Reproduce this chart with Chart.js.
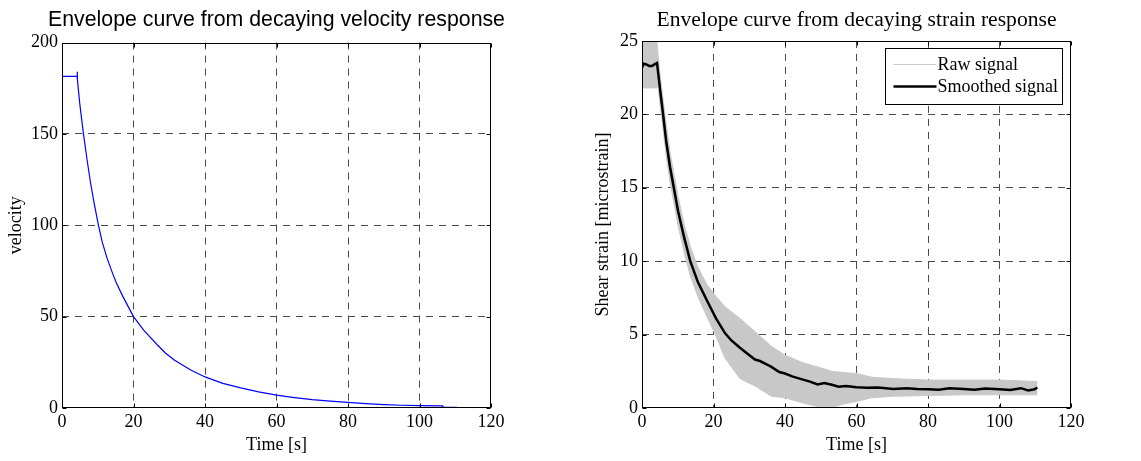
<!DOCTYPE html>
<html>
<head>
<meta charset="utf-8">
<title>Envelope curves</title>
<script src="https://cdn.jsdelivr.net/npm/chart.js@4.4.1/dist/chart.umd.min.js"></script>
<style>
  html, body { margin: 0; padding: 0; background: #fff; }
  #wrap { position: relative; width: 1141px; height: 461px; }
  canvas { position: absolute; top: 0; }
  #velocityChart { left: 0; }
  #strainChart { left: 570px; }
</style>
</head>
<body>
<div id="wrap">
  <canvas id="velocityChart" width="570" height="461"></canvas>
  <canvas id="strainChart" width="571" height="461"></canvas>
</div>
<script>
// Axis ticks
const timeTicks = [0, 20, 40, 60, 80, 100, 120];
const velocityTicks = [0, 50, 100, 150, 200];
const strainTicks = [0, 5, 10, 15, 20, 25];

// Left panel: velocity envelope
const velocityTime = [0, 4.2, 4.25, 4.35, 5, 6, 7, 8, 9, 10.2, 11.3, 12.6, 14, 15.1, 16.9, 18.6, 20, 22.9, 26.7,
    29, 31.4, 36, 40, 45, 50, 55, 60, 65, 70, 75, 80, 85, 90, 95, 100, 106.5, 106.6, 110.5];
const velocity = [181.5, 181.5, 184, 180, 166, 150, 136, 123, 112, 100, 90.5, 82, 74.5, 69, 61.5, 55.2, 50, 42.5, 34.5,
    30, 26.3, 20.8, 17, 13.5, 11, 8.8, 7, 5.7, 4.6, 3.8, 3.1, 2.4, 1.9, 1.5, 1.3, 1.2, 0.5, 0.4];

// Right panel: strain envelope, smoothed
const smoothTime = [0, 0.5, 1.2, 2, 2.8, 3.5, 4.2, 5.1, 5.9, 6.75, 7.85, 8.9, 10.1, 11.8, 13.5, 15.6, 18.2, 20.7,
    23.2, 25, 27.4, 29.5, 31.6, 33, 35, 36.2, 38.4, 40, 42, 44.8, 47, 49.1, 51, 53.1, 55, 57, 60, 63, 66, 70.3, 74, 77,
    80, 83, 86, 90, 93, 96, 100, 103, 106, 108, 109.8, 110.6];
const smoothStrain = [23.2, 23.45, 23.4, 23.3, 23.3, 23.4, 23.5, 21.6, 20, 18.2, 16.4, 15, 13.4, 11.6, 10, 8.6, 7.3, 6.1,
    5.1, 4.6, 4.1, 3.7, 3.3, 3.2, 2.95, 2.8, 2.45, 2.35, 2.15, 1.95, 1.8, 1.6, 1.7, 1.58, 1.45, 1.5, 1.42, 1.38, 1.4, 1.3, 1.35, 1.3,
    1.28, 1.25, 1.35, 1.3, 1.25, 1.32, 1.28, 1.22, 1.35, 1.2, 1.28, 1.4];

// Right panel: raw signal spread (upper / lower edge of the grey band)
const rawTime = [0, 4.2, 4.5, 5.1, 5.9, 6.75, 7.85, 8.9, 10.1, 11.8, 13.5, 15.6, 18.2, 20.7, 23.2, 27.4, 31.6, 36.2,
    40, 44.8, 49.1, 53.1, 57, 60, 64.3, 70.3, 80, 90, 100, 110.6];
const rawUpper = [24.9, 24.9, 24.0, 22.6, 21.0, 19.3, 17.4, 16.0, 14.4, 12.5, 11.0, 9.6, 8.4, 7.6, 6.9, 6.1, 5.2, 4.2,
    3.6, 3.1, 2.8, 2.5, 2.4, 2.35, 2.1, 2.0, 1.9, 1.9, 1.9, 1.8];
const rawLower = [21.8, 21.8, 21.9, 20.6, 19.0, 17.2, 15.4, 14.0, 12.4, 10.6, 9.0, 7.6, 6.2, 4.9, 3.4, 2.0, 1.5, 0.8,
    0.7, 0.35, 0.1, 0.05, 0.3, 0.45, 0.7, 0.8, 0.85, 0.9, 0.9, 0.9];

const serif = "'Liberation Serif', 'Times New Roman', serif";

function toPoints(xs, ys) {
    return xs.map((x, i) => ({ x: x, y: ys[i] }));
}

// grid lines only inside the box, the box itself is drawn by the plugin
function gridColor(ticks) {
    return (ctx) => {
        const v = ctx.tick ? ctx.tick.value : null;
        if (v === ticks[0] || v === ticks[ticks.length - 1]) return "rgba(0,0,0,0)";
        return "#4a4a4a";
    };
}

// center the title over the plot box instead of the whole canvas
const centerTitlePlugin = {
    id: "centerTitle",
    afterLayout(chart) {
        const tb = chart.titleBlock;
        if (!tb) return;
        const c = (chart.chartArea.left + chart.chartArea.right) / 2;
        tb.left = c - chart.width / 2;
        tb.right = c + chart.width / 2;
    },
};

// MATLAB style box with inward tick marks
const boxPlugin = {
    id: "matlabBox",
    afterDraw(chart) {
        const { ctx, chartArea: a, scales } = chart;
        const l = Math.round(a.left) + 0.5, r = Math.round(a.right) - 0.5;
        const t = Math.round(a.top) + 0.5, b = Math.round(a.bottom) - 0.5;
        ctx.save();
        ctx.strokeStyle = "#000";
        ctx.lineWidth = 1;
        ctx.setLineDash([]);
        ctx.strokeRect(l, t, r - l, b - t);
        ctx.beginPath();
        scales.x.ticks.forEach((tk) => {
            const px = Math.round(scales.x.getPixelForValue(tk.value)) + 0.5;
            ctx.moveTo(px, b); ctx.lineTo(px, b - 4);
            ctx.moveTo(px, t); ctx.lineTo(px, t + 4);
        });
        scales.y.ticks.forEach((tk) => {
            const py = Math.round(scales.y.getPixelForValue(tk.value)) + 0.5;
            ctx.moveTo(l, py); ctx.lineTo(l + 4, py);
            ctx.moveTo(r, py); ctx.lineTo(r - 4, py);
        });
        ctx.stroke();
        ctx.restore();
    },
};

// Boxed legend in the top right corner of the plot
const legendPlugin = {
    id: "boxLegend",
    afterDraw(chart) {
        const items = chart.data.datasets
            .filter((d) => d.legendRank !== undefined)
            .sort((p, q) => p.legendRank - q.legendRank);
        if (!items.length) return;
        const { ctx, chartArea: a } = chart;
        const w = 177, h = 56;
        const x0 = Math.round(a.right - 9 - w) + 0.5, y0 = Math.round(a.top + 7) + 0.5;
        ctx.save();
        ctx.fillStyle = "#fff";
        ctx.fillRect(x0, y0, w, h);
        ctx.strokeStyle = "#000";
        ctx.lineWidth = 1;
        ctx.strokeRect(x0, y0, w, h);
        ctx.font = "18px " + serif;
        ctx.textBaseline = "middle";
        items.forEach((d, i) => {
            const y = y0 + 16 + i * 22;
            ctx.strokeStyle = d.borderColor;
            ctx.lineWidth = d.borderWidth;
            ctx.beginPath();
            ctx.moveTo(x0 + 8, y);
            ctx.lineTo(x0 + 51, y);
            ctx.stroke();
            ctx.fillStyle = "#000";
            ctx.fillText(d.label, x0 + 52, y + 1);
        });
        ctx.restore();
    },
};

function makeScales(yTicks, yTitle, yWidth, yTitlePad) {
    return {
        x: {
            type: "linear",
            min: timeTicks[0],
            max: timeTicks[timeTicks.length - 1],
            ticks: { stepSize: timeTicks[1] - timeTicks[0], color: "#000", font: { family: serif, size: 18 }, padding: 3, maxRotation: 0 },
            grid: { drawTicks: false, color: gridColor(timeTicks), lineWidth: 1 },
            border: { display: false, dash: [7, 6] },
            title: { display: true, text: "Time [s]", color: "#000", font: { family: serif, size: 18 }, padding: { top: 0, bottom: 5 } },
            afterFit(scale) { scale.height = 53; },
        },
        y: {
            type: "linear",
            min: yTicks[0],
            max: yTicks[yTicks.length - 1],
            ticks: { stepSize: yTicks[1] - yTicks[0], color: "#000", font: { family: serif, size: 18 }, padding: 4 },
            grid: { drawTicks: false, color: gridColor(yTicks), lineWidth: 1 },
            border: { display: false, dash: [7, 6] },
            title: { display: true, text: yTitle, color: "#000", font: { family: serif, size: 18 }, padding: { top: yTitlePad, bottom: 0 } },
            afterFit(scale) { scale.width = yWidth; },
        },
    };
}

new Chart(document.getElementById("velocityChart"), {
    type: "line",
    data: {
        datasets: [{
            label: "velocity",
            data: toPoints(velocityTime, velocity),
            borderColor: "#0000ff",
            borderWidth: 1.2,
            pointRadius: 0,
            tension: 0,
        }],
    },
    options: {
        responsive: false,
        animation: false,
        layout: { padding: { left: 0, right: 79, top: 0, bottom: 0 } },
        plugins: {
            legend: { display: false },
            tooltip: { enabled: false },
            title: {
                display: true,
                text: "Envelope curve from decaying velocity response",
                color: "#000",
                font: { family: "'Liberation Sans', Arial, sans-serif", size: 21.3, weight: "normal" },
                padding: { top: 7, bottom: 10 },
            },
        },
        scales: makeScales(velocityTicks, "velocity", 62, 5),
    },
    plugins: [centerTitlePlugin, boxPlugin],
});

new Chart(document.getElementById("strainChart"), {
    type: "line",
    data: {
        datasets: [
            {
                label: "Smoothed signal",
                legendRank: 1,
                data: toPoints(smoothTime, smoothStrain),
                borderColor: "#000",
                borderWidth: 2.5,
                pointRadius: 0,
                tension: 0,
                order: 0,
            },
            {
                label: "raw lower",
                data: toPoints(rawTime, rawLower),
                borderColor: "#c8c8c8",
                borderWidth: 1,
                pointRadius: 0,
                tension: 0,
                fill: false,
                order: 2,
            },
            {
                label: "Raw signal",
                legendRank: 0,
                data: toPoints(rawTime, rawUpper),
                borderColor: "#c8c8c8",
                backgroundColor: "#c8c8c8",
                borderWidth: 1,
                pointRadius: 0,
                tension: 0,
                fill: 1,
                order: 1,
            },
        ],
    },
    options: {
        responsive: false,
        animation: false,
        layout: { padding: { left: 0, right: 70, top: 0, bottom: 0 } },
        plugins: {
            legend: { display: false },
            tooltip: { enabled: false },
            title: {
                display: true,
                text: "Envelope curve from decaying strain response",
                color: "#000",
                font: { family: serif, size: 21.6, weight: "normal" },
                padding: { top: 7, bottom: 8 },
            },
        },
        scales: makeScales(strainTicks, "Shear strain [microstrain]", 72, 22),
    },
    plugins: [centerTitlePlugin, boxPlugin, legendPlugin],
});
</script>
</body>
</html>
